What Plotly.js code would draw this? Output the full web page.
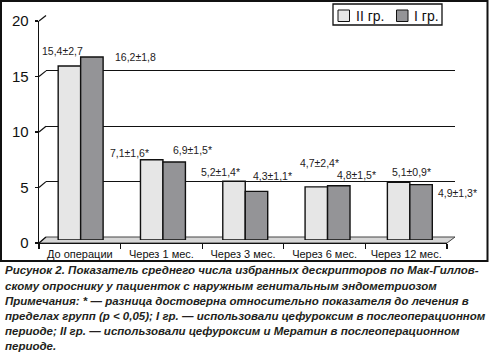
<!DOCTYPE html>
<html><head><meta charset="utf-8">
<script src="https://cdn.plot.ly/plotly-3.0.1.min.js"></script>
<style>html,body{margin:0;padding:0;background:#fff}#chart{width:489px;height:352px}</style>
</head><body><div id="chart"></div>
<script>
// ---- data ----
const categories = ['До операции', 'Через 1 мес.', 'Через 3 мес.', 'Через 6 мес.', 'Через 12 мес.'];
const seriesNames = ['II гр.', 'I гр.'];
const groupII_mean = [15.4, 7.1, 5.2, 4.7, 5.1];
const groupII_sd   = [2.7, 1.6, 1.4, 2.4, 0.9];
const groupI_mean  = [16.2, 6.9, 4.3, 4.8, 4.9];
const groupI_sd    = [1.8, 1.5, 1.1, 1.5, 1.3];
const significant  = [false, true, true, true, true];
const yTicks = [0, 5, 10, 15, 20];
const captionLines = [
  'Рисунок 2. Показатель среднего числа избранных дескрипторов по Мак-Гиллов-',
  'скому опроснику у пациенток с наружным генитальным эндометриозом',
  'Примечания: * — разница достоверна относительно показателя до лечения в',
  'пределах групп (p &lt; 0,05); I гр. — использовали цефуроксим в послеоперационном',
  'периоде; II гр. — использовали цефуроксим и Мератин в послеоперационном',
  'периоде.'
];

// ---- layout geometry (pixels) ----
const W = 489, H = 352;
const px = x => x / W, py = y => 1 - y / H;
const back  = {x0: 46, x1: 455, y0: 237, y20: 15.5};
const front = {x0: 39, x1: 447, y0: 243, y20: 21};
const bars  = {x0: 39.5, x1: 451, y0: 240, y20: 14};
const bargap = 0.454;
const colII = '#e6e6e6', colI = '#949497';
const ink = '#1e1b1c';
const FONT = 'Liberation Sans, Arial, sans-serif';
const offII = [[-7, 15], [-22, 7], [-14, 9], [3, 24], [13, 10]];
const offI  = [[44, 0], [18, 12], [16, 15], [18, 11], [36, -8]];

const fmt = v => v.toFixed(1).replace('.', ',');
const frontY = v => front.y0 + (front.y20 - front.y0) * v / 20;
const backY  = v => back.y0 + (back.y20 - back.y0) * v / 20;

const traces = [
  {type: 'scatter', mode: 'none', x: categories, y: categories.map(() => null), xaxis: 'x', yaxis: 'y', hoverinfo: 'skip', showlegend: false},
  {type: 'bar', name: seriesNames[0], x: categories, y: groupII_mean, xaxis: 'x2', yaxis: 'y2',
   marker: {color: colII, line: {color: '#111', width: 1.4}}, showlegend: false},
  {type: 'bar', name: seriesNames[1], x: categories, y: groupI_mean, xaxis: 'x2', yaxis: 'y2',
   marker: {color: colI, line: {color: '#111', width: 1.4}}, showlegend: false},
  {type: 'scatter', mode: 'none', x: categories, y: categories.map(() => null), xaxis: 'x3', yaxis: 'y3', hoverinfo: 'skip', showlegend: false}
];

const hidden = {showgrid: false, showline: false, zeroline: false, showticklabels: false, ticks: ''};
const shapes = [];
const annotations = [];

// outer frame
shapes.push({type: 'rect', xref: 'paper', yref: 'paper', x0: px(1), x1: px(487.5), y0: py(261), y1: py(1), line: {color: '#111', width: 2}, layer: 'above'});
// floor
shapes.push({type: 'path', xref: 'paper', yref: 'paper', layer: 'below',
  path: `M ${px(front.x0)},${py(front.y0)} L ${px(front.x1)},${py(front.y0)} L ${px(back.x1)},${py(back.y0)} L ${px(back.x0)},${py(back.y0)} Z`,
  fillcolor: '#d6d6d6', line: {color: '#444', width: 1}});
// diagonal connectors from front axis ticks to back wall gridlines
yTicks.forEach(v => {
  shapes.push({type: 'line', xref: 'paper', yref: 'paper', x0: px(front.x0), y0: py(frontY(v)), x1: px(back.x0), y1: py(backY(v)), line: {color: '#111', width: 1.2}});
});
// custom legend
shapes.push({type: 'rect', xref: 'paper', yref: 'paper', x0: px(333), x1: px(442), y0: py(25), y1: py(4), fillcolor: '#fff', line: {color: '#111', width: 1.3}, layer: 'above'});
shapes.push({type: 'rect', xref: 'paper', yref: 'paper', x0: px(338), x1: px(349.5), y0: py(21.5), y1: py(10), fillcolor: colII, line: {color: '#111', width: 1}, layer: 'above'});
shapes.push({type: 'rect', xref: 'paper', yref: 'paper', x0: px(396.5), x1: px(408), y0: py(21.5), y1: py(10), fillcolor: colI, line: {color: '#111', width: 1}, layer: 'above'});
annotations.push({xref: 'paper', yref: 'paper', x: px(354), y: py(16), xanchor: 'left', yanchor: 'middle', text: seriesNames[0], showarrow: false, font: {family: FONT, size: 14, color: '#111'}});
annotations.push({xref: 'paper', yref: 'paper', x: px(411.5), y: py(16), xanchor: 'left', yanchor: 'middle', text: seriesNames[1], showarrow: false, font: {family: FONT, size: 14, color: '#111'}});

// value labels
const half = (1 - bargap) / 4;
categories.forEach((c, i) => {
  annotations.push({xref: 'x2', yref: 'y2', x: i - half, y: groupII_mean[i], xshift: offII[i][0], yshift: offII[i][1],
    text: fmt(groupII_mean[i]) + '±' + fmt(groupII_sd[i]) + (significant[i] ? '*' : ''),
    showarrow: false, xanchor: 'center', yanchor: 'middle', font: {family: FONT, size: 10.5, color: ink}});
  annotations.push({xref: 'x2', yref: 'y2', x: i + half, y: groupI_mean[i], xshift: offI[i][0], yshift: offI[i][1],
    text: fmt(groupI_mean[i]) + '±' + fmt(groupI_sd[i]) + (significant[i] ? '*' : ''),
    showarrow: false, xanchor: 'center', yanchor: 'middle', font: {family: FONT, size: 10.5, color: ink}});
});

// caption
const capY = [270, 285.5, 300.7, 316, 331, 345.5];
captionLines.forEach((t, k) => {
  annotations.push({xref: 'paper', yref: 'paper', x: px(2.5), y: py(capY[k]), xanchor: 'left', yanchor: 'middle',
    text: '<b><i>' + t + '</i></b>', showarrow: false, font: {family: FONT, size: 11.5, color: '#231f20'}});
});

const layout = {
  width: W, height: H,
  margin: {l: 0, r: 0, t: 0, b: 0, pad: 0},
  paper_bgcolor: '#fff', plot_bgcolor: 'rgba(0,0,0,0)',
  showlegend: false,
  barmode: 'group', bargap: bargap, bargroupgap: 0,
  font: {family: FONT, color: '#111'},
  // back wall gridlines
  xaxis: Object.assign({domain: [px(back.x0), px(back.x1)], anchor: 'y', type: 'category', range: [-0.5, 4.5], fixedrange: true}, hidden),
  yaxis: {domain: [py(back.y0), py(back.y20)], anchor: 'x', range: [0, 20], tickvals: [5, 10, 15, 20], showgrid: true,
          gridcolor: '#111', gridwidth: 1.2, showline: false, zeroline: false, showticklabels: false, ticks: '', fixedrange: true},
  // bars
  xaxis2: Object.assign({domain: [px(bars.x0), px(bars.x1)], anchor: 'y2', type: 'category', range: [-0.5, 4.5], fixedrange: true}, hidden),
  yaxis2: Object.assign({domain: [py(bars.y0), py(bars.y20)], anchor: 'x2', range: [0, 20], fixedrange: true}, hidden),
  // front axes
  xaxis3: {domain: [px(front.x0), px(front.x1)], anchor: 'y3', type: 'category', range: [-0.5, 4.5], tickson: 'boundaries',
           ticks: 'outside', ticklen: 5, tickwidth: 1.2, tickcolor: '#111', showline: true, linecolor: '#111', linewidth: 1.3,
           showgrid: false, zeroline: false, tickfont: {family: FONT, size: 11, color: '#111'}, fixedrange: true},
  yaxis3: {domain: [py(front.y0), py(front.y20)], anchor: 'x3', range: [0, 20], tickvals: yTicks,
           ticks: 'outside', ticklen: 3, tickwidth: 1.2, tickcolor: '#111', showline: true, linecolor: '#111', linewidth: 1.3,
           showgrid: false, zeroline: false, ticklabelstandoff: 3, tickfont: {family: FONT, size: 15, color: '#111'}, fixedrange: true},
  shapes: shapes,
  annotations: annotations
};

Plotly.newPlot('chart', traces, layout, {staticPlot: true, displayModeBar: false});
</script>
</body></html>
